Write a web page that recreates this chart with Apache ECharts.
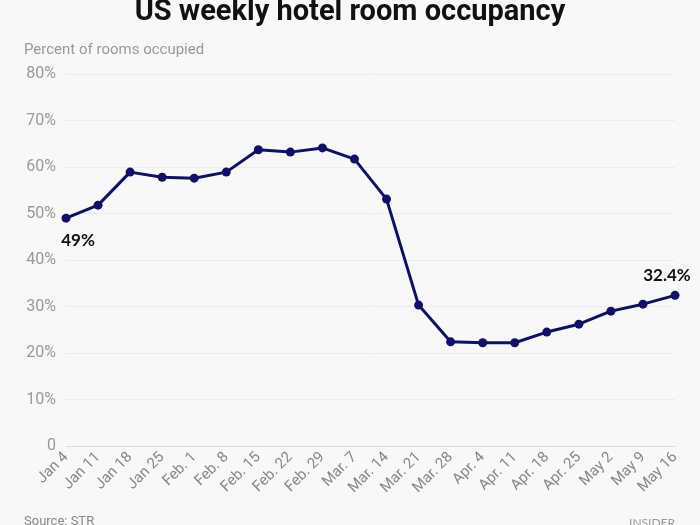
<!DOCTYPE html>
<html><head><meta charset="utf-8">
<script src="https://cdn.jsdelivr.net/npm/echarts@6/dist/echarts.min.js"></script>
<style>html,body{margin:0;padding:0;background:#f8f8f8}#c{width:700px;height:525px}</style>
</head><body><div id="c"></div>
<script>
var categories = ["Jan 4","Jan 11","Jan 18","Jan 25","Feb. 1","Feb. 8","Feb. 15","Feb. 22","Feb. 29","Mar. 7","Mar. 14","Mar. 21","Mar. 28","Apr. 4","Apr. 11","Apr. 18","Apr. 25","May 2","May 9","May 16"];
var occupancy = [49.0,51.8,58.9,57.8,57.6,58.9,63.7,63.2,64.1,61.7,53.1,30.3,22.4,22.2,22.2,24.5,26.2,29.0,30.5,32.4];
var labelText = {0:"49%", 19:"32.4%"};
var chart = echarts.init(document.getElementById('c'));
var data = occupancy.map(function(v,i){
  var d = {value:v};
  if (labelText[i]) {
    d.label = {show:true, formatter:labelText[i], position: i===0?'bottom':'top',
      offset: i===0?[12,4]:[-8,-2], color:'#111', fontWeight:'bold', fontSize:17, fontFamily:'Lato'};
  }
  return d;
});
chart.setOption({
  backgroundColor:'#f8f8f8',
  title:[{text:'US weekly hotel room occupancy', left:'center', top:-7,
    textStyle:{fontSize:29, fontWeight:'bold', color:'#111', fontFamily:'Roboto'}},
    {text:'Percent of rooms occupied', left:19, top:38, textStyle:{fontSize:15, fontWeight:'normal', color:'#999', fontFamily:'Roboto'}},
    {text:'Source: STR', left:19, top:510, textStyle:{fontSize:13, fontWeight:'normal', color:'#888', fontFamily:'Roboto'}},
    {text:'INSIDER', right:20, top:512, textStyle:{fontSize:12, fontWeight:'normal', color:'#999', fontFamily:'Lato', letterSpacing:3}}
  ],
  grid:{left:66, right:25, top:74, bottom:79},
  xAxis:{type:'category', data:categories, boundaryGap:false,
    axisLine:{show:false}, axisTick:{show:false},
    axisLabel:{rotate:45, color:'#888', fontSize:15, fontFamily:'Roboto', margin:9, interval:0}},
  yAxis:{type:'value', min:0, max:80, interval:10,
    axisLabel:{color:'#999', fontSize:16, fontFamily:'Roboto', margin:10,
      formatter:function(v){return v===0?'0':v+'%';}},
    splitLine:{lineStyle:{color:['#dcdcdc','#ececec','#ececec','#ececec','#ececec','#ececec','#ececec','#ececec','#ececec'], width:1}}},
  series:[{type:'line', data:data, symbol:'circle', symbolSize:9,
    lineStyle:{color:'#10106a', width:3}, itemStyle:{color:'#10106a'}, animation:false}]
});
</script></body></html>
